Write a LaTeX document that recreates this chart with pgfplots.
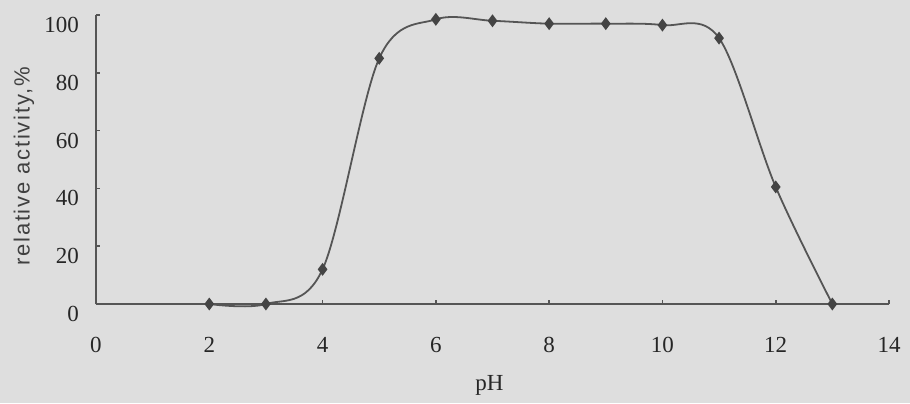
\documentclass[border=0pt]{standalone}
\usepackage{pgfplots}
\pgfplotsset{compat=1.18}
\usepackage{fontspec}
\setmainfont{Liberation Serif}
\newfontfamily\labsans[LetterSpace=8]{Liberation Sans}
\usetikzlibrary{backgrounds}
\definecolor{bg}{RGB}{222,222,222}
\definecolor{ln}{RGB}{85,85,85}
\begin{document}
\begin{tikzpicture}
\begin{axis}[
  name=ax, at={(0,0)}, anchor=south west,
  scale only axis, width=396.5pt, height=144.5pt,
  xmin=0, xmax=14, ymin=0, ymax=100,
  axis x line=bottom, axis y line=left,
  axis line style={-, draw=ln, line width=1pt},
  xtick={0,2,...,14}, ytick={0,20,...,100},
  tick align=inside, major tick length=2pt,
  tick style={draw=ln, line width=0.8pt},
  /pgf/number format/assume math mode=true,
  tick label style={font=\fontsize{11.5}{13}\selectfont, text=black!85},
  xticklabel style={yshift=-13pt},
  yticklabel style={xshift=-5pt, yshift=-5pt},
  xlabel={pH},
  xlabel style={at={(axis description cs:0.496,0)}, anchor=center, yshift=-40.5pt, font=\fontsize{11.5}{13}\selectfont, text=black!85},
  ylabel={relative activity,\%},
  ylabel style={at={(axis description cs:0,0.5)}, anchor=center, xshift=-3.5pt, yshift=36pt, font=\labsans\fontsize{11}{13}\selectfont, text=black!75},
  clip=false,
]
\addplot[color=ln, line width=0.9pt, smooth, tension=0.55, mark=diamond*, mark size=2.5pt, mark options={fill=ln!80!black, draw=ln!80!black}]
coordinates {(2,0) (3,0) (4,12) (5,85) (6,98.5) (7,98) (8,97) (9,97) (10,96.5) (11,92) (12,40.5) (13,0)};
\end{axis}
\begin{scope}[on background layer]
\fill[bg] (-48pt,-49.5pt) rectangle (407pt,152pt);
\end{scope}
\end{tikzpicture}
\end{document}
